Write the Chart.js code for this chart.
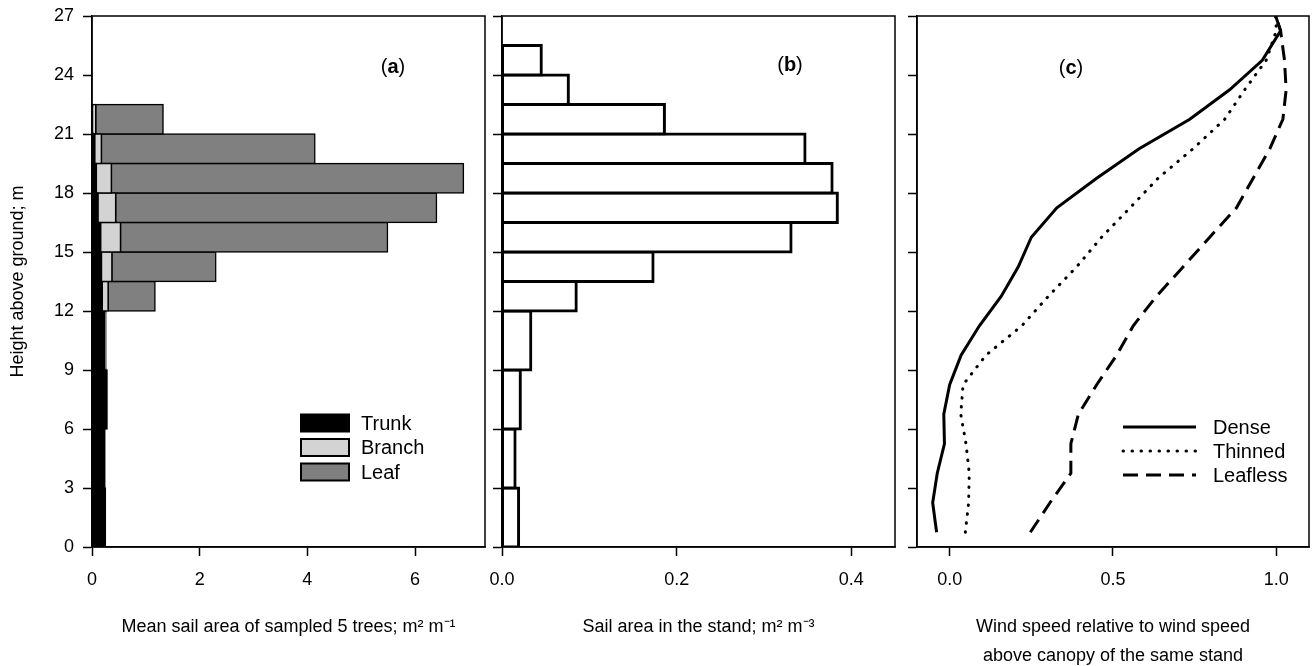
<!DOCTYPE html>
<html>
<head>
<meta charset="utf-8">
<script src="https://cdn.jsdelivr.net/npm/chart.js@4.4.1/dist/chart.umd.min.js"></script>
<style>
html, body { margin: 0; padding: 0; background: #fff; overflow: hidden; }
#wrap { position: relative; width: 1312px; height: 666px; overflow: hidden; }
canvas { position: absolute; top: 0; }
</style>
</head>
<body>
<div id="wrap">
  <canvas id="chartA" width="490" height="680" style="left:0px"></canvas>
  <canvas id="chartB" width="440" height="680" style="left:460px"></canvas>
  <canvas id="chartC" width="432" height="680" style="left:880px"></canvas>
</div>
<script>
const FONT = "'Liberation Sans', Arial, sans-serif";

// height classes (bin centres, m): 1.5 m classes above 12 m, 3 m classes below
const upperBins = [12.75, 14.25, 15.75, 17.25, 18.75, 20.25, 21.75];
const lowerBins = [1.5, 4.5, 7.5, 10.5];

// (a) mean sail area of the 5 sampled trees, m2 m-1
const trunkUpper = [0.19, 0.175, 0.16, 0.11, 0.08, 0.05, 0.01];
const branchUpper = [0.11, 0.195, 0.37, 0.33, 0.28, 0.125, 0.06];
const leafUpper = [0.87, 1.93, 4.96, 5.96, 6.54, 3.965, 1.25];
const trunkLower = [0.25, 0.24, 0.28, 0.24];
const branchLower = [0, 0, 0, 0.02];

// (b) sail area in the stand, m2 m-3
const standBinsUpper = [12.75, 14.25, 15.75, 17.25, 18.75, 20.25, 21.75, 23.25, 24.75];
const standUpper = [0.085, 0.173, 0.331, 0.384, 0.378, 0.347, 0.186, 0.076, 0.045];
const standLower = [0.019, 0.015, 0.021, 0.033];

// (c) relative wind speed profiles
const windHeights = [0.75, 2.25, 3.75, 5.25, 6.75, 8.25, 9.75, 11.25, 12.75, 14.25, 15.75, 17.25, 18.75, 20.25, 21.75, 23.25, 24.75, 26.25, 27];
const dense = [-0.04, -0.052, -0.038, -0.016, -0.018, 0.0, 0.035, 0.091, 0.158, 0.21, 0.25, 0.328, 0.45, 0.58, 0.735, 0.857, 0.957, 1.013, 0.998];
const thinned = [0.048, 0.058, 0.06, 0.05, 0.034, 0.041, 0.111, 0.221, 0.302, 0.389, 0.465, 0.552, 0.638, 0.745, 0.842, 0.903, 0.969, 1.0, 0.998];
const leafless = [0.247, 0.307, 0.371, 0.371, 0.394, 0.45, 0.511, 0.562, 0.633, 0.715, 0.796, 0.878, 0.929, 0.98, 1.02, 1.03, 1.025, 1.013, 0.998];

// tick labels
const heightTicks = [0, 3, 6, 9, 12, 15, 18, 21, 24, 27];
const sailTicks = [0, 2, 4, 6];
const standTicks = [0, 0.2, 0.4];
const windTicks = [0, 0.5, 1.0];

Chart.defaults.font.family = FONT;
Chart.defaults.font.size = 18;
Chart.defaults.color = '#000';

function pts(heights, values) {
  return values.map((v, i) => ({ x: v, y: heights[i] }));
}

function heightAxis(width, showLabels) {
  return {
    type: 'linear', position: 'left', min: 0, max: 27, offset: false,
    afterBuildTicks: s => { s.ticks = heightTicks.map(v => ({ value: v })); },
    afterFit: s => { s.width = width; s.paddingTop = 0; s.paddingBottom = 0; },
    grid: { drawOnChartArea: false, offset: false, tickLength: 9, tickWidth: 1.5, tickColor: '#000' },
    border: { display: true, color: '#000', width: 1.5 },
    ticks: { display: showLabels, padding: 9 },
    title: {
      display: showLabels, text: 'Height above ground; m',
      padding: { top: 7, bottom: 0 }
    }
  };
}

// hidden twin of the height axis, holding the 3 m classes
function lowerAxis() {
  return {
    type: 'linear', display: false, position: 'left', min: 0, max: 27, offset: false,
    afterBuildTicks: s => { s.ticks = heightTicks.map(v => ({ value: v })); }
  };
}

function valueAxis(min, max, tickVals, fmt, title, titlePad, lineHeight, stacked) {
  return {
    type: 'linear', position: 'bottom', min: min, max: max, stacked: stacked,
    afterBuildTicks: s => { s.ticks = tickVals.map(v => ({ value: v })); },
    afterFit: s => { s.height = 133; },
    grid: { drawOnChartArea: false, tickLength: 9, tickWidth: 1.5, tickColor: '#000' },
    border: { display: true, color: '#000', width: 1.5 },
    ticks: { padding: 13, callback: fmt },
    title: {
      display: true, text: title,
      padding: { top: 0, bottom: titlePad },
      font: { size: 18, lineHeight: lineHeight }
    }
  };
}

// frame, panel letter and in-plot legend
const decor = {
  id: 'decor',
  afterDraw(chart, args, opts) {
    const { ctx, chartArea: a } = chart;
    ctx.save();
    ctx.strokeStyle = '#000';
    ctx.lineWidth = 1.5;
    ctx.strokeRect(a.left, a.top, a.right - a.left, a.bottom - a.top);

    // "(a)" with bold letter
    ctx.fillStyle = '#000';
    ctx.textBaseline = 'middle';
    ctx.textAlign = 'left';
    const reg = '20px ' + FONT, bold = 'bold 20px ' + FONT;
    ctx.font = reg; const wp = ctx.measureText('(').width;
    ctx.font = bold; const wl = ctx.measureText(opts.letter).width;
    let x = opts.letterX - (wp * 2 + wl) / 2;
    ctx.font = reg; ctx.fillText('(', x, opts.letterY); x += wp;
    ctx.font = bold; ctx.fillText(opts.letter, x, opts.letterY); x += wl;
    ctx.font = reg; ctx.fillText(')', x, opts.letterY);

    if (opts.legend) {
      const lg = opts.legend;
      const items = chart.data.datasets.filter(d => d.inLegend);
      items.forEach((d, i) => {
        const y = lg.y + i * lg.dy;
        if (lg.kind === 'box') {
          ctx.fillStyle = d.backgroundColor;
          ctx.fillRect(lg.x, y - 8.5, 48, 17);
          ctx.strokeStyle = '#000';
          ctx.lineWidth = 2;
          ctx.setLineDash([]);
          ctx.strokeRect(lg.x, y - 8.5, 48, 17);
        } else {
          ctx.strokeStyle = '#000';
          ctx.lineWidth = d.borderWidth;
          ctx.lineCap = d.borderCapStyle || 'butt';
          ctx.setLineDash(d.borderDash || []);
          ctx.beginPath();
          ctx.moveTo(lg.x, y);
          ctx.lineTo(lg.x + 73, y);
          ctx.stroke();
          ctx.setLineDash([]);
        }
        ctx.fillStyle = '#000';
        ctx.font = '20px ' + FONT;
        ctx.fillText(d.label, lg.x + lg.textDx, y + 1);
      });
    }
    ctx.restore();
  }
};

const barBase = {
  barPercentage: 1, categoryPercentage: 1, grouped: false,
  borderColor: '#000', borderSkipped: false
};

function bar(label, data, axis, color, bw, inLegend) {
  return Object.assign({}, barBase, {
    label: label, data: data, yAxisID: axis, backgroundColor: color,
    borderWidth: bw, inflateAmount: bw / 2, inLegend: inLegend
  });
}

// (a)
new Chart(document.getElementById('chartA'), {
  type: 'bar',
  data: {
    datasets: [
      bar('Trunk', pts(upperBins, trunkUpper), 'y', '#000000', 1.5, true),
      bar('Branch', pts(upperBins, branchUpper), 'y', '#d3d3d3', 1.5, true),
      bar('Leaf', pts(upperBins, leafUpper), 'y', '#808080', 1.5, true),
      bar('Trunk', pts(lowerBins, trunkLower), 'y2', '#000000', 1.5, false),
      bar('Branch', pts(lowerBins, branchLower), 'y2', '#d3d3d3', 1.5, false)
    ]
  },
  options: {
    indexAxis: 'y', responsive: false, animation: false, events: [],
    layout: { padding: { top: 16, right: 5, left: 0, bottom: 0 } },
    scales: {
      x: valueAxis(0, 7.3, sailTicks, v => String(v),
        'Mean sail area of sampled 5 trees; m\u00b2 m\u207b\u00b9', 42, 1.2, true),
      y: heightAxis(92, true),
      y2: lowerAxis()
    },
    plugins: {
      legend: { display: false }, tooltip: { enabled: false },
      decor: { letter: 'a', letterX: 393, letterY: 67,
        legend: { kind: 'box', x: 301, y: 423, dy: 24.5, textDx: 60 } }
    }
  },
  plugins: [decor]
});

// (b)
new Chart(document.getElementById('chartB'), {
  type: 'bar',
  data: {
    datasets: [
      bar('Stand', pts(standBinsUpper, standUpper), 'y', '#ffffff', 3, false),
      bar('Stand', pts(lowerBins, standLower), 'y2', '#ffffff', 3, false)
    ]
  },
  options: {
    indexAxis: 'y', responsive: false, animation: false, events: [],
    layout: { padding: { top: 16, right: 5, left: 0, bottom: 0 } },
    scales: {
      x: valueAxis(0, 0.45, standTicks, v => v.toFixed(1),
        'Sail area in the stand; m\u00b2 m\u207b\u00b3', 42, 1.2, false),
      y: heightAxis(42, false),
      y2: lowerAxis()
    },
    plugins: {
      legend: { display: false }, tooltip: { enabled: false },
      decor: { letter: 'b', letterX: 330, letterY: 65 }
    }
  },
  plugins: [decor]
});

// (c)
function profile(label, values, dash, cap) {
  return {
    label: label, data: pts(windHeights, values), showLine: true,
    borderColor: '#000', borderWidth: 3, borderDash: dash, borderCapStyle: cap,
    pointRadius: 0, tension: 0, fill: false, inLegend: true
  };
}

new Chart(document.getElementById('chartC'), {
  type: 'scatter',
  data: {
    datasets: [
      profile('Dense', dense, [], 'butt'),
      profile('Thinned', thinned, [0.5, 8.5], 'round'),
      profile('Leafless', leafless, [15, 8], 'butt')
    ]
  },
  options: {
    responsive: false, animation: false, events: [],
    layout: { padding: { top: 16, right: 3, left: 0, bottom: 0 } },
    scales: {
      x: valueAxis(-0.1, 1.1, windTicks, v => v.toFixed(1),
        ['Wind speed relative to wind speed', 'above canopy of the same stand'], 10, 1.6, false),
      y: heightAxis(37, false)
    },
    plugins: {
      legend: { display: false }, tooltip: { enabled: false },
      decor: { letter: 'c', letterX: 191, letterY: 68,
        legend: { kind: 'line', x: 243, y: 427, dy: 24, textDx: 90 } }
    }
  },
  plugins: [decor]
});
</script>
</body>
</html>
